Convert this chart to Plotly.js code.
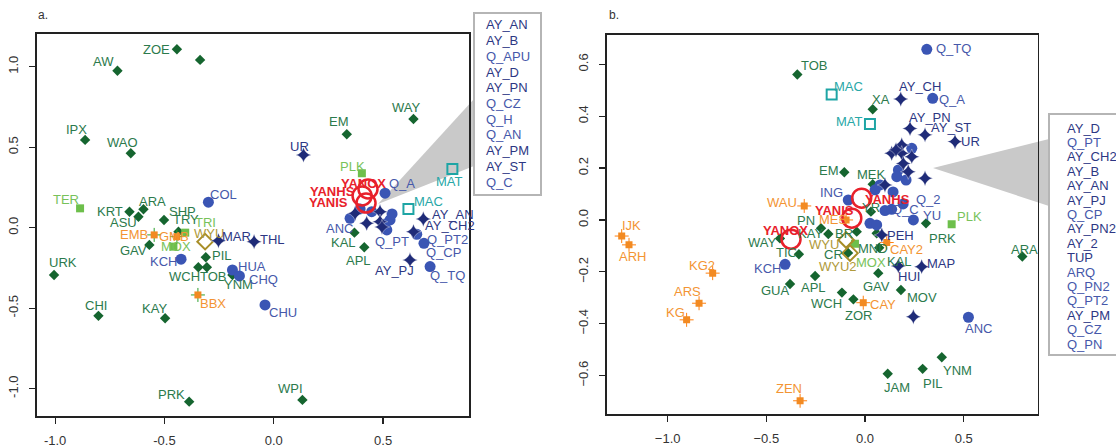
<!DOCTYPE html>
<html><head><meta charset="utf-8">
<script src="https://cdn.plot.ly/plotly-3.0.1.min.js"></script>
<style>html,body{margin:0;padding:0;background:#fff}#chart{width:1116px;height:448px}</style>
</head><body><div id="chart"></div>
<script>
// ---------- Panel a data ----------
const aNames = ['ZOE','','AW','IPX','WAO','KRT','ARA','ASU','SHP','TRY','GAV','PIL','WCH','TOB','YNM','URK','CHI','KAY','PRK','WPI','EM','WAY','KAL','APL',
  'COL','KCH','HUA','CHQ','CHU','Q_A','ANC','Q_PT','Q_PT2','Q_CP','Q_TQ','Q_APU','Q_CZ','Q_H','Q_AN','Q_C',
  'MAR','THL','UR','AY_PJ','AY_AN','AY_CH2','AY_B','AY_D','AY_PN','AY_PM','AY_ST',
  'EMB','GMB','BBX',
  'TER','TRI','MOX','PLK',
  'MAT','MAC',
  'WYU',
  'YANOX','YANHS','YANIS'];
const aX = [-0.443,-0.337,-0.715,-0.863,-0.654,-0.660,-0.596,-0.619,-0.502,-0.436,-0.569,-0.311,-0.345,-0.306,-0.189,-1.005,-0.802,-0.497,-0.387,0.131,0.334,0.639,0.369,0.414,
  -0.299,-0.424,-0.189,-0.157,-0.040,0.509,0.349,0.517,0.654,0.687,0.715,0.448,0.532,0.509,0.541,0.395,
  -0.253,-0.090,0.136,0.623,0.684,0.639,0.372,0.486,0.425,0.486,0.495,
  -0.547,-0.443,-0.347,
  -0.886,-0.405,-0.459,0.403,
  0.817,0.616,
  -0.314,
  0.431,0.404,0.422];
const aY = [1.108,1.042,0.975,0.545,0.462,0.099,0.114,0.068,0.048,-0.025,-0.107,-0.184,-0.246,-0.246,-0.294,-0.294,-0.548,-0.563,-1.081,-1.070,0.580,0.675,-0.031,-0.122,
  0.158,-0.196,-0.263,-0.300,-0.480,0.214,0.058,-0.014,-0.041,-0.097,-0.242,0.099,0.048,0.023,0.085,0.116,
  -0.081,-0.087,0.452,-0.201,0.054,-0.025,0.089,0.099,0.027,0.037,0.004,
  -0.045,-0.056,-0.418,
  0.120,-0.031,-0.118,0.338,
  0.365,0.116,
  -0.087,
  0.240,0.197,0.153];
const aGroup = [].concat(Array(24).fill('dia'),Array(16).fill('circ'),Array(11).fill('star'),Array(3).fill('orng'),Array(4).fill('lgsq'),Array(2).fill('teal'),['olive'],Array(3).fill('red'));
const aBoxNames = ['AY_AN','AY_B','Q_APU','AY_D','AY_PN','Q_CZ','Q_H','Q_AN','AY_PM','AY_ST','Q_C'];
const aXTickVals = [-1.0,-0.5,0.0,0.5];
const aXTickText = ['-1.0','-0.5','0.0','0.5'];
const aYTickVals = [-1.0,-0.5,0.0,0.5,1.0];
const aYTickText = ['-1.0','-0.5','0.0','0.5','1.0'];

// ---------- Panel b data ----------
const bNames = ['TOB','XA','EM','MEK','YR','PN','WAY','TIC','GUA','APL','KAY','BR','CR','MND','KAL','GAV','MOV','WCH','ZOR','YNM','PIL','JAM','ARA','PRK',
  'Q_TQ','Q_A','ING','Q_C','Q_2','YU','KCH','ANC','','','','Q_PT','Q_CP','ARQ','Q_PN2','Q_PT2','Q_CZ','Q_PN',
  'AY_CH','AY_PN','AY_ST','UR','PEH','HUI','MAP','','AY_D','AY_CH2','AY_B','AY_AN','AY_PJ','AY_PN2','AY_2','TUP','AY_PM',
  'WAU','MES','CAY2','CAY','IJK','ARH','KG2','ARS','KG','ZEN',
  'MOX','PLK',
  'MAC','MAT',
  'WYU','WYU2',
  'YANOX','YANHS','YANIS'];
const bX = [-0.343,0.039,-0.105,0.039,0.030,-0.223,-0.431,-0.335,-0.380,-0.253,-0.186,-0.042,-0.086,0.059,0.072,0.067,0.182,-0.117,-0.059,0.389,0.292,0.115,0.797,0.309,
  0.313,0.343,-0.085,0.101,0.193,0.245,-0.405,0.524,0.135,0.025,0.059,0.237,0.169,0.161,0.076,0.051,0.208,0.142,
  0.181,0.228,0.304,0.456,0.085,0.169,0.287,0.245,0.186,0.135,0.186,0.237,0.194,0.219,0.304,0.101,0.157,
  -0.308,-0.096,0.110,-0.009,-1.233,-1.196,-0.772,-0.841,-0.904,-0.329,
  -0.051,0.439,
  -0.169,0.025,
  -0.096,-0.076,
  -0.375,-0.017,-0.067];
const bY = [0.561,0.427,0.184,0.138,0.032,-0.032,-0.071,-0.132,-0.247,-0.216,-0.054,-0.045,-0.127,-0.051,-0.107,-0.205,-0.270,-0.280,-0.306,-0.529,-0.574,-0.593,-0.141,-0.013,
  0.658,0.469,0.077,0.036,0.062,0.000,-0.171,-0.375,0.041,-0.013,-0.019,0.276,0.193,0.167,0.135,0.116,0.154,0.108,
  0.466,0.353,0.328,0.302,-0.058,-0.177,-0.180,-0.373,0.289,0.257,0.257,0.244,0.218,0.186,0.161,0.135,0.270,
  0.054,0.000,-0.087,-0.319,-0.062,-0.096,-0.205,-0.321,-0.385,-0.697,
  -0.092,-0.017,
  0.484,0.370,
  -0.077,-0.128,
  -0.074,0.084,0.007];
const bGroup = [].concat(Array(24).fill('dia'),Array(18).fill('circ'),Array(17).fill('star'),Array(10).fill('orng'),Array(2).fill('lgsq'),Array(2).fill('teal'),Array(2).fill('olive'),Array(3).fill('red'));
const bBoxNames = ['AY_D','Q_PT','AY_CH2','AY_B','AY_AN','AY_PJ','Q_CP','AY_PN2','AY_2','TUP','ARQ','Q_PN2','Q_PT2','AY_PM','Q_CZ','Q_PN'];
const bXTickVals = [-1.0,-0.5,0.0,0.5];
const bXTickText = ['\u22121.0','\u22120.5','0.0','0.5'];
const bYTickVals = [-0.6,-0.4,-0.2,0.0,0.2,0.4,0.6];
const bYTickText = ['\u22120.6','\u22120.4','\u22120.2','0.0','0.2','0.4','0.6'];

// ---------- Styles (label offsets in px: text centre relative to marker) ----------
const aLabelOff = {ZOE:[-20,0],AW:[-14,-9],IPX:[-9,-10],WAO:[-8,-11],TER:[-14,-9],COL:[15,-8],KRT:[-19,0],ARA:[9,-8],ASU:[-15,6],SHP:[18,-8],TRY:[8,-12],TRI:[20,-10],
  EMB:[-20,0],GMB:[-3,0],MOX:[3,0],WYU:[4,-8],MAR:[18,-4],THL:[18,-2],GAV:[-16,6],KCH:[-18,2],PIL:[16,-2],WCH:[-14,9],TOB:[7,9],HUA:[20,-3],CHQ:[24,4],
  YNM:[6,10],BBX:[15,9],CHU:[18,8],URK:[9,-12],CHI:[-2,-10],KAY:[-11,-10],PRK:[-18,-7],WPI:[-12,-11],EM:[-8,-13],WAY:[-7,-11],UR:[-4,-8],PLK:[-9,-7],
  MAT:[-3,13],MAC:[20,-7],YANOX:[-5,-6],YANHS:[-30,-4],YANIS:[-38,-1],Q_A:[17,-10],ANC:[-11,10],KAL:[-11,10],APL:[-6,13],Q_PT:[5,12],AY_PJ:[-15,10],
  AY_AN:[30,-4],AY_CH2:[37,-6],Q_PT2:[31,5],Q_CP:[20,9],Q_TQ:[17,9]};
const bLabelOff = {TOB:[17,-9],MAC:[17,-8],MAT:[-20,-2],XA:[8,-10],AY_CH:[19,-13],Q_A:[19,1],Q_TQ:[27,-1],AY_PN:[20,-11],AY_ST:[26,-7],UR:[15,0],EM:[-15,-2],
  MEK:[-1,-10],ING:[-17,-7],YANHS:[26,1],YANIS:[-17,-8],MES:[-13,0],WAU:[-22,-3],PN:[-15,-8],YANOX:[-6,-9],WAY:[-18,4],TIC:[-12,-2],KCH:[-18,4],GUA:[-15,6],
  APL:[-2,12],KAY:[-18,0],BR:[-13,2],WYU:[-22,5],MOX:[16,19],CR:[-15,2],WYU2:[-12,13],MND:[-4,15],KAL:[20,14],PEH:[19,0],CAY2:[20,7],HUI:[11,11],MAP:[19,-3],
  GAV:[-2,13],MOV:[21,7],WCH:[-15,11],ZOR:[5,16],CAY:[20,2],ANC:[10,11],YNM:[16,13],PIL:[10,15],JAM:[9,14],ARA:[2,-7],PLK:[18,-8],PRK:[16,15],YU:[19,-4],
  Q_C:[21,-1],Q_2:[25,-4],YR:[0,-4],IJK:[10,-11],ARH:[3,12],KG2:[-11,-8],ARS:[-12,-12],KG:[-11,-7],ZEN:[-11,-12]};

const groupStyle = {
  dia:  {symbol:'diamond', size:8, color:'#15652f', lw:0, text:'#2c7a4c'},
  lgsq: {symbol:'square', size:8, color:'#6dbf4b', lw:0, text:'#78c25a'},
  orng: {symbol:'square', size:7, color:'#f28a22', lw:0, text:'#f39433'},
  olive:{symbol:'diamond-open', size:12, color:'#a88e28', lw:2, text:'#b09a3a'},
  teal: {symbol:'square-open', size:10, color:'#1ea5a5', lw:2, text:'#28a7a7'},
  circ: {symbol:'circle', size:11, color:'#3a55b4', lw:0, text:'#4658aa'},
  star: {symbol:'star-diamond', size:11, color:'#1f2b78', lw:0, text:'#2d3784'},
  red:  {symbol:'circle-open', size:19, color:'#e8212b', lw:2.5, text:'#e8212b', bold:true}
};
const order = ['dia','lgsq','orng','olive','teal','circ','star','red'];

const traces = [];
const annotations = [];
function addPanel(names, xs, ys, groups, offs, xa, ya){
  order.forEach(g=>{
    const idx = groups.map((v,i)=>v===g?i:-1).filter(i=>i>=0);
    const st = groupStyle[g];
    const px = idx.map(i=>xs[i]), py = idx.map(i=>ys[i]);
    if(g==='orng'){
      traces.push({type:'scatter',mode:'markers',x:px,y:py,xaxis:xa,yaxis:ya,hoverinfo:'skip',
        marker:{symbol:'cross-thin-open',size:10,line:{color:st.color,width:1}}});
    }
    traces.push({type:'scatter',mode:'markers',x:px,y:py,xaxis:xa,yaxis:ya,hoverinfo:'skip',
      marker:{symbol:st.symbol,size:st.size,color:st.color,line:{color:st.lw?st.color:'rgba(255,255,255,0.6)',width:st.lw?st.lw:(g==='star'?0.6:0)}}});
    idx.forEach(i=>{
      const o = offs[names[i]];
      if(!o) return;
      annotations.push({x:xs[i],y:ys[i],xref:xa,yref:ya,text:st.bold?'<b>'+names[i]+'</b>':names[i],showarrow:false,
        xanchor:'center',yanchor:'middle',xshift:o[0],yshift:-o[1],
        font:{family:'Liberation Sans, Arial, sans-serif',size:13,color:st.text}});
    });
  });
}
addPanel(aNames,aX,aY,aGroup,aLabelOff,'x','y');
addPanel(bNames,bX,bY,bGroup,bLabelOff,'x2','y2');

// box name lists
function addBox(list, names, groups, left, top, step){
  list.forEach((n,k)=>{
    const g = groups[names.indexOf(n)];
    annotations.push({xref:'paper',yref:'paper',x:left/1116,y:1-(top+k*step)/448,text:n,showarrow:false,
      xanchor:'left',yanchor:'middle',font:{family:'Liberation Sans, Arial, sans-serif',size:13,color:groupStyle[g].text}});
  });
}
addBox(aBoxNames,aNames,aGroup,484,25,15.7);
addBox(bBoxNames,bNames,bGroup,1065,128,14.4);

annotations.push({xref:'paper',yref:'paper',x:36/1116,y:1-15/448,text:'a.',showarrow:false,xanchor:'left',yanchor:'middle',font:{family:'Liberation Sans, Arial',size:12,color:'#333'}});
annotations.push({xref:'paper',yref:'paper',x:607/1116,y:1-15/448,text:'b.',showarrow:false,xanchor:'left',yanchor:'middle',font:{family:'Liberation Sans, Arial',size:12,color:'#333'}});

const P=(x,y)=>(x/1116).toFixed(5)+','+(1-y/448).toFixed(5);
const shapes = [
  {type:'path',xref:'paper',yref:'paper',layer:'below',path:'M'+P(378,204)+' L'+P(474,99)+' L'+P(474,166)+' Z',fillcolor:'#c9c9c9',line:{width:0}},
  {type:'path',xref:'paper',yref:'paper',layer:'below',path:'M'+P(933,168)+' L'+P(1049,139)+' L'+P(1049,206)+' Z',fillcolor:'#c9c9c9',line:{width:0}},
  {type:'rect',xref:'paper',yref:'paper',x0:474/1116,x1:541/1116,y0:1-195/448,y1:1-13/448,line:{color:'#b5b5b5',width:2},fillcolor:'rgba(0,0,0,0)'},
  {type:'rect',xref:'paper',yref:'paper',x0:1049/1116,x1:1130/1116,y0:1-355/448,y1:1-114/448,line:{color:'#b5b5b5',width:2},fillcolor:'rgba(0,0,0,0)'}
];

const axBase = {showgrid:false,zeroline:false,showline:true,mirror:true,linecolor:'#222',linewidth:1.6,
  ticks:'outside',ticklen:6,tickwidth:1.2,tickcolor:'#222',tickfont:{family:'Liberation Sans, Arial',size:13,color:'#333'},
  tickmode:'array',ticklabelstandoff:6};
const layout = {
  width:1116,height:448,margin:{l:0,r:0,t:0,b:0},paper_bgcolor:'#fff',plot_bgcolor:'rgba(0,0,0,0)',
  showlegend:false,hovermode:false,
  xaxis:Object.assign({},axBase,{domain:[37/1116,469/1116],range:[-1.083,0.893],tickvals:aXTickVals,ticktext:aXTickText,anchor:'y'}),
  yaxis:Object.assign({},axBase,{domain:[1-416/448,1-34/448],range:[-1.170,1.203],tickvals:aYTickVals,ticktext:aYTickText,tickangle:-90,anchor:'x'}),
  xaxis2:Object.assign({},axBase,{domain:[606.7/1116,1037.7/1116],range:[-1.309,0.875],tickvals:bXTickVals,ticktext:bXTickText,anchor:'y2'}),
  yaxis2:Object.assign({},axBase,{domain:[1-414/448,1-35/448],range:[-0.748,0.713],tickvals:bYTickVals,ticktext:bYTickText,tickangle:-90,anchor:'x2'}),
  annotations:annotations,shapes:shapes
};
Plotly.newPlot('chart',traces,layout,{staticPlot:true,displayModeBar:false});
</script></body></html>
